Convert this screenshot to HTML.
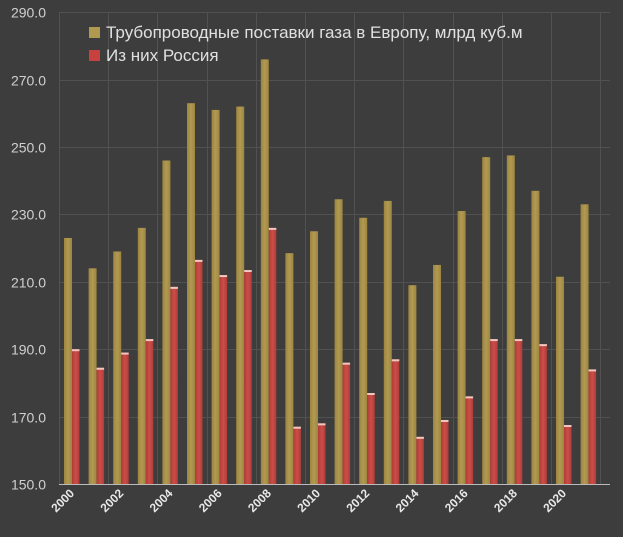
<!DOCTYPE html>
<html><head><meta charset="utf-8"><style>
body{margin:0;background:#3d3d3d;}
svg{display:block;font-family:"Liberation Sans","DejaVu Sans",sans-serif;}
</style></head><body>
<svg width="623" height="537" xmlns="http://www.w3.org/2000/svg">
<defs>
<linearGradient id="g" x1="0" x2="1"><stop offset="0" stop-color="#9c8540"/><stop offset="0.5" stop-color="#b29a52"/><stop offset="1" stop-color="#9c8540"/></linearGradient>
<linearGradient id="r" x1="0" x2="1"><stop offset="0" stop-color="#b03c38"/><stop offset="0.5" stop-color="#cc4d48"/><stop offset="1" stop-color="#b03c38"/></linearGradient>
</defs>
<rect width="623" height="537" fill="#3d3d3d"/>
<g id="grid" stroke="#515151" stroke-width="1"></g>
<g id="bars"></g>
<line x1="59" y1="484.5" x2="610" y2="484.5" stroke="#bbb" stroke-width="1"/>
<g id="ylab" fill="#d0d0d0" font-size="14" text-anchor="end"></g>
<g id="xlab" fill="#e8e8e8" font-size="12" font-weight="bold" text-anchor="end"></g>
<rect x="89" y="27" width="11" height="11" fill="#b09a50"/>
<rect x="89" y="50" width="11" height="11" fill="#c9413e"/>
<text x="106" y="38" fill="#e0e0e0" font-size="17">Трубопроводные поставки газа в Европу, млрд куб.м</text>
<text x="106" y="61" fill="#e0e0e0" font-size="17">Из них Россия</text>
<script>
var ns="http://www.w3.org/2000/svg";
function el(p,t,a,txt){var e=document.createElementNS(ns,t);for(var k in a)e.setAttribute(k,a[k]);if(txt)e.textContent=txt;document.getElementById(p).appendChild(e);}
function Y(v){return 484-(v-150)*3.37;}
for(var v=150;v<=290;v+=20){var y=Math.round(Y(v))+0.5;if(v>150)el("grid","line",{x1:59,x2:610,y1:y,y2:y});el("ylab","text",{x:46,y:y+5},v.toFixed(1));}
for(var i=0;i<=22;i+=2){var x=Math.round(59+24.6*i)+0.5;el("grid","line",{x1:x,x2:x,y1:13,y2:484});}
var G=[223,214,219,226,246,263,261,262,276,218.5,225,234.5,229,234,209,215,231,247,247.5,237,211.5,233];
var R=[190,184.5,189,193,208.5,216.5,212,213.5,226,167,168,186,177,187,164,169,176,193,193,191.5,167.5,184];
for(var i=0;i<22;i++){var x=59+24.6*i+5;
el("bars","rect",{x:x,y:Y(G[i]),width:8,height:484-Y(G[i]),fill:"url(#g)"});
el("bars","rect",{x:x+8,y:Y(R[i]),width:7.5,height:484-Y(R[i]),fill:"url(#r)"});
el("bars","rect",{x:x+8,y:Y(R[i]),width:7.5,height:2,fill:"#f0c8c0"});
if(i%2==0){var lx=x+11,ly=494;el("xlab","text",{x:lx,y:ly,transform:"rotate(-45 "+lx+" "+ly+")"},String(2000+i));}
}
</script>
</svg>
</body></html>
